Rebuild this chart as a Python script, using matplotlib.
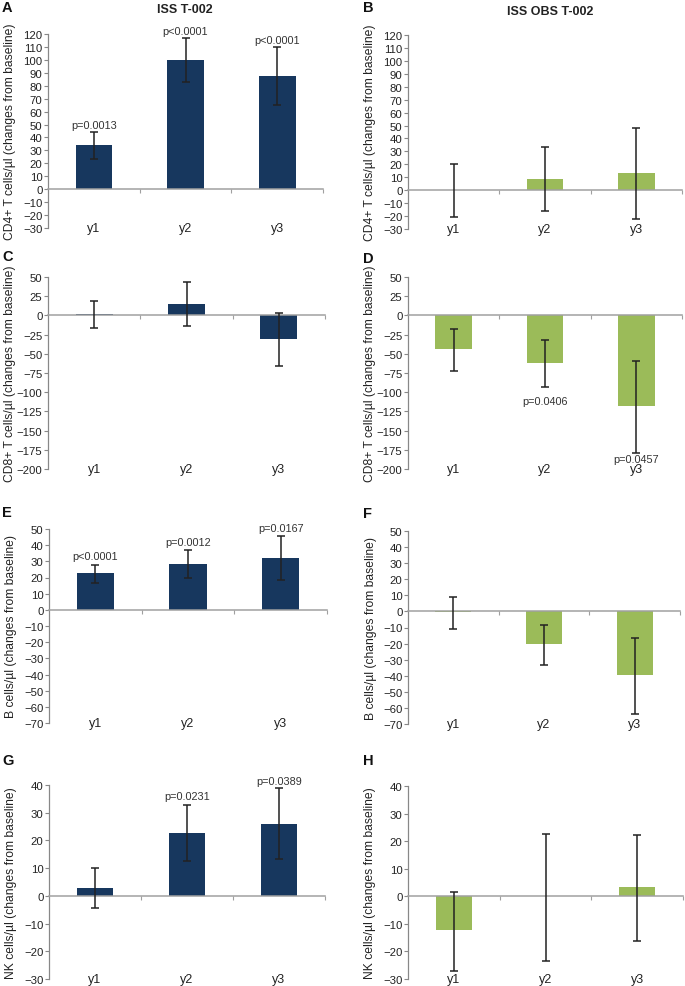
import numpy as np
import matplotlib
matplotlib.use("Agg")
import matplotlib.pyplot as plt

plt.rcParams['font.family'] = ['Liberation Sans', 'DejaVu Sans']

# categories
years = ["y1", "y2", "y3"]

# A: CD4+ ISS T-002
cd4_iss = [34, 100, 87.5]
cd4_iss_lo = [23, 82.5, 65]
cd4_iss_hi = [44, 117, 110]
cd4_iss_p = ["p=0.0013", "p<0.0001", "p<0.0001"]
cd4_iss_py = [50, 122, 115.5]

# B: CD4+ ISS OBS T-002
cd4_obs = [0, 9, 13]
cd4_obs_lo = [-21, -16, -22.5]
cd4_obs_hi = [20.5, 33.5, 48]

# C: CD8+ ISS T-002
cd8_iss = [2, 15, -30.5]
cd8_iss_lo = [-16, -13.5, -66.5]
cd8_iss_hi = [18.5, 43, 2.5]

# D: CD8+ ISS OBS T-002
cd8_obs = [-44, -62, -118]
cd8_obs_lo = [-73, -93, -179]
cd8_obs_hi = [-17.5, -31.5, -60]
cd8_obs_p = ["", "p=0.0406", "p=0.0457"]
cd8_obs_py = [0, -111, -187]

# E: B cells ISS T-002
b_iss = [22.5, 28.5, 32]
b_iss_lo = [16.5, 19.5, 18.5]
b_iss_hi = [28, 37, 45.5]
b_iss_p = ["p<0.0001", "p=0.0012", "p=0.0167"]
b_iss_py = [33, 41.7, 50.4]

# F: B cells ISS OBS T-002
b_obs = [-0.5, -20, -39.5]
b_obs_lo = [-11, -33.3, -63.5]
b_obs_hi = [9.2, -8.3, -16.7]

# G: NK cells ISS T-002
nk_iss = [3, 22.8, 26]
nk_iss_lo = [-4.5, 12.6, 13.3]
nk_iss_hi = [10.2, 32.8, 38.8]
nk_iss_p = ["", "p=0.0231", "p=0.0389"]
nk_iss_py = [0, 36, 41.6]

# H: NK cells ISS OBS T-002
nk_obs = [-12.4, 0, 3.2]
nk_obs_lo = [-27, -23.5, -16.1]
nk_obs_hi = [1.6, 22.7, 22.2]

navy = "#17375e"
green = "#9bbb59"

cd4_lab = "CD4+ T cells/\u00b5l (changes from baseline)"
cd8_lab = "CD8+ T cells/\u00b5l (changes from baseline)"
b_lab = "B cells/\u00b5l (changes from baseline)"
nk_lab = "NK cells/\u00b5l (changes from baseline)"

W, H = 685, 987
fig = plt.figure(figsize=(W / 100, H / 100), dpi=100)


def px_axes(left, right, top, bottom):
    return fig.add_axes([left / W, 1 - bottom / H, (right - left) / W, (bottom - top) / H])


def panel(box, vals, lo, hi, color, ylim, step, ylabel, ptext=None, py=None):
    ax = px_axes(*box)
    x = np.arange(1, len(years) + 1)
    vals = np.array(vals)
    err = [vals - np.array(lo), np.array(hi) - vals]
    ax.bar(x, vals, width=0.4, color=color, zorder=2)
    ax.errorbar(x, vals, yerr=err, fmt="none", ecolor="#222222", elinewidth=1.1,
                capsize=3, capthick=1.1, zorder=3)
    ax.set_xlim(0.5, 3.5)
    ax.set_ylim(*ylim)
    ax.set_yticks(np.arange(ylim[0], ylim[1] + 0.1, step))
    ax.tick_params(axis="y", direction="out", length=3, width=0.8, color="#888888",
                   labelsize=8.2, labelcolor="#222222", pad=1)
    for s in ["top", "right"]:
        ax.spines[s].set_visible(False)
    ax.spines["left"].set_color("#888888")
    ax.spines["left"].set_linewidth(0.9)
    ax.spines["bottom"].set_position(("data", 0))
    ax.spines["bottom"].set_color("#a0a0a0")
    ax.spines["bottom"].set_linewidth(1.1)
    ax.set_xticks([1.5, 2.5, 3.5])
    ax.set_xticklabels([])
    ax.tick_params(axis="x", direction="out", length=3, width=0.8, color="#a0a0a0")
    for xi, lab in zip(x, years):
        ax.text(xi, 0, lab, transform=ax.get_xaxis_transform(), ha="center",
                va="center", fontsize=9, color="#222222")
    if ptext is not None:
        for xi, t, yy in zip(x, ptext, py):
            if t:
                ax.text(xi, yy, t, ha="center", va="center", fontsize=7.8, color="#333333")
    ax.set_ylabel(ylabel, fontsize=8.7, color="#222222")
    ax.yaxis.set_label_coords(-0.115, 0.5)
    return ax


axA = panel((48, 323, 35, 229), cd4_iss, cd4_iss_lo, cd4_iss_hi, navy, (-30, 120), 10,
            cd4_lab, cd4_iss_p, cd4_iss_py)
axB = panel((408, 682, 36, 230), cd4_obs, cd4_obs_lo, cd4_obs_hi, green, (-30, 120), 10,
            cd4_lab)
axC = panel((48, 325, 278, 470), cd8_iss, cd8_iss_lo, cd8_iss_hi, navy, (-200, 50), 25,
            cd8_lab)
axD = panel((408, 682, 278, 470), cd8_obs, cd8_obs_lo, cd8_obs_hi, green, (-200, 50), 25,
            cd8_lab, cd8_obs_p, cd8_obs_py)
axE = panel((49, 327, 530, 724), b_iss, b_iss_lo, b_iss_hi, navy, (-70, 50), 10,
            b_lab, b_iss_p, b_iss_py)
axF = panel((408, 680, 532, 725), b_obs, b_obs_lo, b_obs_hi, green, (-70, 50), 10,
            b_lab)
axG = panel((49, 325, 786, 980), nk_iss, nk_iss_lo, nk_iss_hi, navy, (-30, 40), 10,
            nk_lab, nk_iss_p, nk_iss_py)
axH = panel((408, 683, 787, 980), nk_obs, nk_obs_lo, nk_obs_hi, green, (-30, 40), 10,
            nk_lab)

fig.text(185 / W, 1 - 10 / H, "ISS T-002", ha="center", va="center", fontsize=9,
         fontweight="bold", color="#222222")
fig.text(550 / W, 1 - 12 / H, "ISS OBS T-002", ha="center", va="center", fontsize=9,
         fontweight="bold", color="#222222")

# panel letters
for lab, xp, yp in [("A", 2, 8), ("B", 363, 8), ("C", 2, 257), ("D", 363, 259),
                    ("E", 2, 513), ("F", 363, 514), ("G", 2, 761), ("H", 363, 761)]:
    fig.text(xp / W, 1 - yp / H, lab, ha="left", va="center", fontsize=10.5,
             fontweight="bold", color="#111111")

fig.savefig("out.png", dpi=100)
